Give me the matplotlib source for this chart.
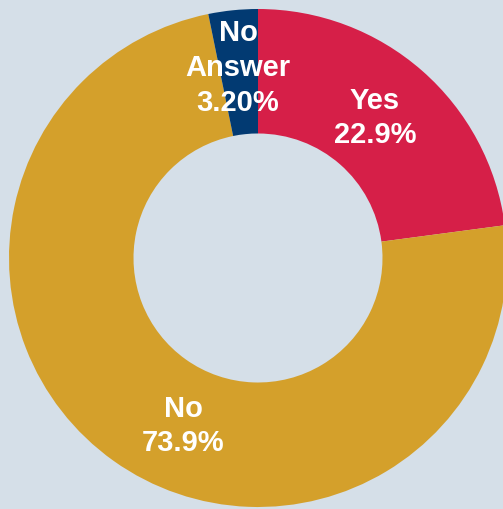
import matplotlib
matplotlib.use("Agg")
import matplotlib.pyplot as plt

# Survey responses
categories = ["Yes", "No", "No Answer"]
values = [22.9, 73.9, 3.2]
label_texts = ["Yes\n22.9%", "No\n73.9%", "No\nAnswer\n3.20%"]

colors = ["#d61f48", "#d4a02b", "#023a72"]
bg = "#d5dfe8"

W, H = 503, 510
fig = plt.figure(figsize=(W / 100, H / 100), dpi=100)
fig.patch.set_facecolor(bg)
ax = fig.add_axes([0, 0, 1, 1])
ax.set_facecolor(bg)

cx, cy, R = 258, H - 259, 249
wedges, _ = ax.pie(values, colors=colors, startangle=90, counterclock=False,
                   center=(cx, cy), radius=R,
                   wedgeprops=dict(width=R * 0.5, linewidth=0),
                   frame=True)
ax.set_xlim(0, W)
ax.set_ylim(0, H)
ax.set_aspect("equal")
ax.axis("off")

# label anchor points (pixel coordinates from top-left)
label_pos = [(375, 118), (183, 426), (238, 68)]
for (x, y), t in zip(label_pos, label_texts):
    ax.text(x, H - y, t, ha="center", va="center", color="white",
            fontsize=21, fontweight="bold", family="Liberation Sans",
            linespacing=1.3)

fig.savefig("out.png", dpi=100, facecolor=bg)
